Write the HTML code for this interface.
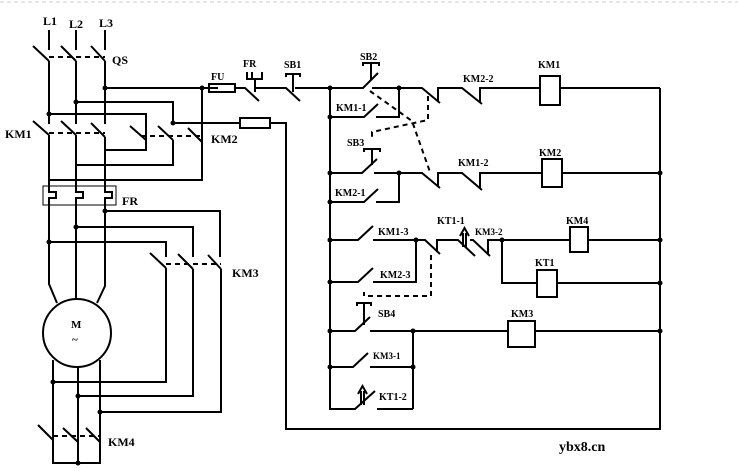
<!DOCTYPE html>
<html><head><meta charset="utf-8"><style>
html,body{margin:0;padding:0;background:#fff;}
svg{display:block}
text{font-family:"Liberation Serif",serif;font-weight:bold;fill:#000}
</style></head><body>
<svg width="738" height="476" viewBox="0 0 738 476" xmlns="http://www.w3.org/2000/svg">
<line x1="0" y1="2" x2="738" y2="2" stroke="#ccc" stroke-dasharray="4,3"/>
<g stroke="#000" stroke-width="2" fill="none">
<line x1="49" y1="30" x2="49" y2="50"/><line x1="76" y1="30" x2="76" y2="50"/><line x1="105" y1="30" x2="105" y2="50"/>
<line x1="33" y1="46" x2="49" y2="61"/><line x1="61" y1="46" x2="76" y2="61"/><line x1="91" y1="46" x2="105" y2="61"/>
<line x1="49" y1="61" x2="49" y2="124"/><line x1="76" y1="61" x2="76" y2="124"/><line x1="105" y1="61" x2="105" y2="124"/>
<polyline points="105,88 218,88"/>
<polyline points="76,102 173,102 173,123"/>
<polyline points="49,114 146,114 146,140"/>
<line x1="33" y1="121" x2="49" y2="135"/><line x1="61" y1="121" x2="76" y2="135"/><line x1="91" y1="123" x2="105" y2="137"/>
<line x1="130" y1="126" x2="146" y2="140"/><line x1="158" y1="126" x2="173" y2="140"/><line x1="188" y1="128" x2="202" y2="142"/>
<polyline points="146,140 146,150 105,150"/>
<polyline points="173,140 173,165 76,165"/>
<polyline points="202,88 202,180 49,180"/>
<polyline points="173,123 240,123"/>
<rect x="240" y="118" width="30" height="10"/>
<polyline points="270,123 286,123 286,429 660,429 660,88"/>
<line x1="49" y1="135" x2="49" y2="190"/><line x1="76" y1="135" x2="76" y2="190"/><line x1="105" y1="137" x2="105" y2="190"/>
<polyline points="49,190 49,192 56,192 56,198 49,198 49,280"/>
<polyline points="76,190 76,192 83,192 83,198 76,198 76,280"/>
<polyline points="105,190 105,192 112,192 112,198 105,198 105,280"/>
<polyline points="105,211 220,211 220,257"/>
<polyline points="76,227 193,227 193,257"/>
<polyline points="49,242 166,242 166,257"/>
<line x1="150" y1="253" x2="166" y2="268"/><line x1="178" y1="254" x2="193" y2="269"/><line x1="208" y1="255" x2="221" y2="269"/>
<polyline points="166,268 166,382 53,382"/>
<polyline points="193,269 193,396 78,396"/>
<polyline points="221,269 221,412 100,412"/>
<polyline points="49,280 49,284 57,303"/><line x1="76" y1="280" x2="76" y2="298"/><polyline points="105,280 105,286 97,303"/>
<circle cx="77" cy="333" r="34"/>
<line x1="53" y1="360" x2="53" y2="440"/><line x1="78" y1="366" x2="78" y2="442"/><line x1="100" y1="360" x2="100" y2="442"/>
<line x1="38" y1="425" x2="53" y2="440"/><line x1="63" y1="428" x2="78" y2="442"/><line x1="86" y1="428" x2="100" y2="442"/>
<polyline points="53,440 53,463 100,463 100,442"/><line x1="78" y1="442" x2="78" y2="463"/>
<rect x="209" y="84" width="26" height="8"/>
<polyline points="235,88 245,88 259,101"/>
<polyline points="252,72 252,79 255,79 255,92"/><polyline points="247,72 247,79 262,79 262,72"/>
<polyline points="256,88 286,88 300,101"/><polyline points="286,77 286,74 300,74 300,77"/><line x1="293" y1="74" x2="293" y2="92"/>
<line x1="295" y1="88" x2="330" y2="88"/>
<line x1="330" y1="88" x2="330" y2="410"/>
<polyline points="330,88 363,88 378,73"/><polyline points="363,66 363,63 379,63 379,66"/><line x1="371" y1="63" x2="371" y2="80"/>
<polyline points="372,88 422,88 440,103"/><polyline points="438,101 438,88 462,88 482,104"/><polyline points="480,102 480,88 540,88"/>
<rect x="540" y="76" width="20" height="29"/><line x1="560" y1="88" x2="660" y2="88"/>
<polyline points="330,117 364,117 378,104"/><polyline points="376,117 399,117 399,88"/>
<polyline points="330,173 362,173 377,159"/><polyline points="364,152 364,149 380,149 380,152"/><line x1="372" y1="149" x2="372" y2="165"/>
<polyline points="374,173 422,173 440,188"/><polyline points="438,186 438,173 462,173 482,190"/><polyline points="480,188 480,173 542,173"/>
<rect x="542" y="159" width="20" height="28"/><line x1="562" y1="173" x2="660" y2="173"/>
<polyline points="330,202 364,202 378,189"/><polyline points="376,202 399,202 399,173"/>
<polyline points="330,240 358,240 373,226"/><polyline points="373,240 425,240 440,254"/><polyline points="437,252 437,240 458,240 475,256"/>
<polyline points="470,240 473,240 490,256"/><polyline points="488,254 488,240 570,240"/>
<line x1="463" y1="233" x2="463" y2="247"/><line x1="466" y1="233" x2="466" y2="247"/><polyline points="460,236 464.5,228 469,236"/>
<rect x="570" y="227" width="18" height="25"/><line x1="588" y1="240" x2="660" y2="240"/>
<polyline points="330,282 358,282 373,268"/><polyline points="373,282 416,282 416,240"/>
<polyline points="502,240 502,283 537,283"/><rect x="537" y="270" width="20" height="27"/><line x1="557" y1="283" x2="660" y2="283"/>
<polyline points="330,331 355,331 370,317"/><line x1="364" y1="303" x2="364" y2="325"/><polyline points="357,306 357,303 371,303 371,306"/>
<polyline points="370,331 508,331"/><rect x="508" y="321" width="27" height="26"/><line x1="535" y1="331" x2="660" y2="331"/>
<polyline points="330,367 353,367 368,353"/><polyline points="370,367 413,367"/>
<line x1="413" y1="331" x2="413" y2="409"/>
<polyline points="330,409 355,409 375,391"/><polyline points="377,409 413,409"/>
<line x1="361" y1="391" x2="361" y2="405"/><line x1="364" y1="391" x2="364" y2="405"/><polyline points="358,394 362.5,386 367,394"/>
</g>
<g stroke="#000" stroke-width="1" fill="none"><rect x="43" y="186" width="73" height="19"/></g>
<g stroke="#000" stroke-width="2" stroke-dasharray="5,4" fill="none">
<line x1="49" y1="57" x2="105" y2="57"/><line x1="49" y1="133" x2="105" y2="133"/>
<line x1="141" y1="136" x2="200" y2="136"/><line x1="166" y1="264" x2="221" y2="264"/>
<line x1="53" y1="436" x2="100" y2="436"/>
<polyline points="370,91 412,121 430,172"/>
<polyline points="428,96 428,120 372,132 372,140"/>
<polyline points="431,255 431,296 364,296 364,292"/>
</g>
<g fill="#000">
<circle cx="105" cy="88" r="2.5"/><circle cx="76" cy="102" r="2.5"/><circle cx="49" cy="114" r="2.5"/><circle cx="202" cy="88" r="2.5"/><circle cx="173" cy="123" r="2.5"/>
<circle cx="105" cy="211" r="2.5"/><circle cx="76" cy="227" r="2.5"/><circle cx="49" cy="242" r="2.5"/>
<circle cx="53" cy="382" r="2.5"/><circle cx="78" cy="396" r="2.5"/><circle cx="100" cy="412" r="2.5"/><circle cx="78" cy="463" r="2.5"/>
<circle cx="330" cy="88" r="2.5"/><circle cx="399" cy="88" r="2.5"/><circle cx="330" cy="117" r="2.5"/><circle cx="330" cy="173" r="2.5"/><circle cx="399" cy="173" r="2.5"/><circle cx="330" cy="202" r="2.5"/>
<circle cx="330" cy="240" r="2.5"/><circle cx="416" cy="240" r="2.5"/><circle cx="502" cy="240" r="2.5"/><circle cx="330" cy="282" r="2.5"/>
<circle cx="330" cy="331" r="2.5"/><circle cx="413" cy="331" r="2.5"/><circle cx="330" cy="367" r="2.5"/><circle cx="413" cy="367" r="2.5"/>
<circle cx="660" cy="173" r="2.5"/><circle cx="660" cy="240" r="2.5"/><circle cx="660" cy="283" r="2.5"/><circle cx="660" cy="331" r="2.5"/>
</g>
<g font-size="12">
<text x="43" y="25">L1</text><text x="69" y="28">L2</text><text x="99" y="27">L3</text>
<text x="112" y="64">QS</text><text x="5" y="138">KM1</text><text x="211" y="143">KM2</text>
<text x="122" y="205">FR</text><text x="232" y="277">KM3</text><text x="108" y="446">KM4</text>
<text x="71" y="328" font-size="11">M</text><text x="72" y="343" font-size="11">~</text>
</g>
<g font-size="10">
<text x="211" y="80">FU</text><text x="243" y="67">FR</text><text x="284" y="68">SB1</text>
<text x="360" y="60">SB2</text><text x="538" y="68">KM1</text><text x="463" y="82">KM2-2</text>
<text x="336" y="111">KM1-1</text><text x="347" y="146">SB3</text><text x="539" y="156">KM2</text><text x="458" y="166">KM1-2</text>
<text x="335" y="196">KM2-1</text><text x="378" y="235">KM1-3</text><text x="437" y="224">KT1-1</text><text x="475" y="235" font-size="9">KM3-2</text>
<text x="566" y="224">KM4</text><text x="380" y="278">KM2-3</text><text x="535" y="266">KT1</text>
<text x="378" y="317">SB4</text><text x="511" y="317">KM3</text><text x="373" y="359" font-size="9">KM3-1</text><text x="379" y="400">KT1-2</text>
</g>
<text x="559" y="451" font-family="Liberation Mono,monospace" font-weight="normal" font-size="14">ybx8.cn</text>
</svg>
</body></html>
